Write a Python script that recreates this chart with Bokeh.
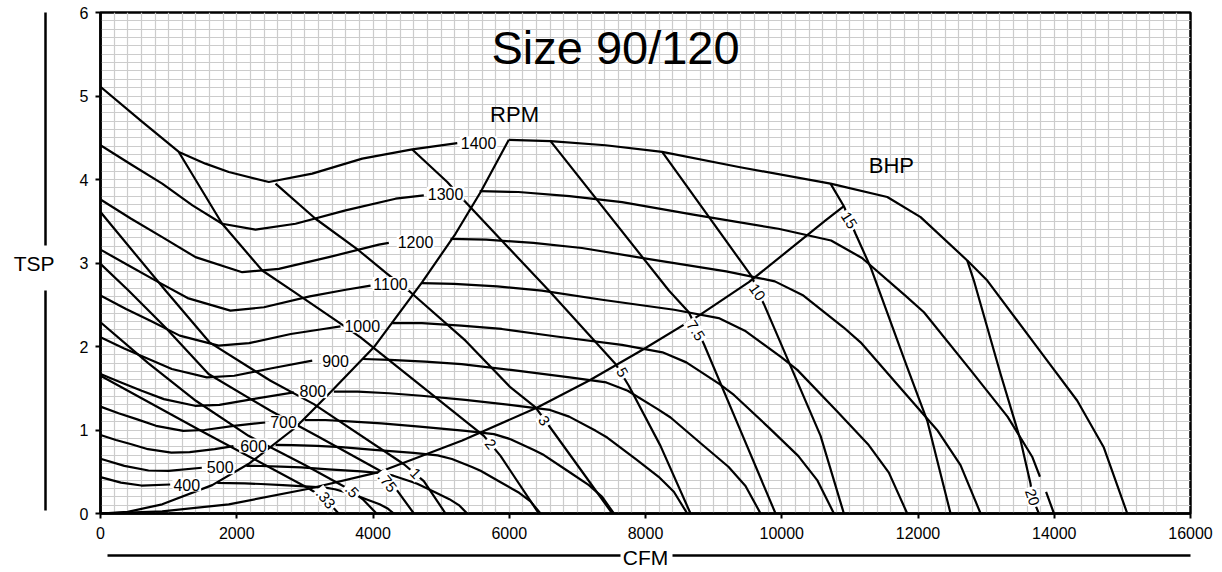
from bokeh.plotting import figure
from bokeh.models import Range1d, SingleIntervalTicker, LinearAxis, FixedTicker
from bokeh.core.properties import value
from bokeh.embed import file_html
from bokeh.resources import INLINE

nan = float("nan")

# ---------------- data (CFM, TSP) ----------------
# fan RPM curves: stall part, gap (label), operating part
rpm1400_cfm = [0, 600, 1150, 1541, 1883, 2471, 3108, 3842, 4576, 5237, nan, 5994, 6606, 7413, 8245, 9370, 10716, 11549, 12038, 12723, 13017, 13751, 14338, 14728, 15072]
rpm1400_tsp = [5.11, 4.70, 4.33, 4.19, 4.09, 3.97, 4.07, 4.25, 4.36, 4.435, nan, 4.475, 4.46, 4.41, 4.33, 4.15, 3.95, 3.79, 3.55, 3.03, 2.79, 1.99, 1.35, 0.79, 0]
rpm1300_cfm = [0, 450, 906, 1350, 1786, 2275, 2863, 3597, 4331, 4746, nan, 5566, 6134, 6884, 7656, 8701, 9951, 10724, 11178, 11814, 12087, 12769, 13314, 13676, 13790, nan, 13880, 13996]
rpm1300_tsp = [4.41, 4.18, 3.95, 3.69, 3.47, 3.40, 3.47, 3.63, 3.77, 3.81, nan, 3.86, 3.85, 3.80, 3.73, 3.58, 3.41, 3.27, 3.06, 2.61, 2.41, 1.72, 1.16, 0.68, 0.44, nan, 0.26, 0]
rpm1200_cfm = [0, 450, 906, 1395, 2080, 2617, 3351, 4085, 4232, nan, 5138, 5662, 6354, 7067, 8031, 9185, 9899, 10318, 10905, 11157, 11787, 12290, 12624, 12919]
rpm1200_tsp = [3.76, 3.53, 3.31, 3.07, 2.89, 2.93, 3.07, 3.22, 3.24, nan, 3.29, 3.28, 3.24, 3.18, 3.05, 2.90, 2.78, 2.61, 2.23, 2.05, 1.46, 0.99, 0.58, 0]
rpm1100_cfm = [0, 413, 830, 1279, 1907, 2399, 3072, 3600, 3964, nan, 4710, 5190, 5824, 6478, 7362, 8420, 9074, 9458, 9997, 10228, 10804, 11266, 11572, 11842]
rpm1100_tsp = [3.16, 2.97, 2.78, 2.58, 2.43, 2.47, 2.60, 2.68, 2.73, nan, 2.76, 2.75, 2.72, 2.67, 2.56, 2.44, 2.34, 2.19, 1.87, 1.72, 1.23, 0.83, 0.49, 0]
rpm1000_cfm = [0, 375, 755, 1163, 1733, 2181, 2793, 3272, 3523, nan, 4281, 4719, 5295, 5889, 6693, 7654, 8249, 8599, 9088, 9298, 9822, 10241, 10520, 10766]
rpm1000_tsp = [2.61, 2.45, 2.30, 2.13, 2.01, 2.04, 2.15, 2.21, 2.24, nan, 2.28, 2.28, 2.25, 2.21, 2.12, 2.02, 1.93, 1.81, 1.55, 1.42, 1.02, 0.69, 0.40, 0]
rpm900_cfm = [0, 340, 680, 1047, 1560, 1963, 2514, 3108, nan, 3853, 4247, 4766, 5300, 6024, 6889, 7424, 7739, 8179, 8368, 8840, 9217, 9468, 9689]
rpm900_tsp = [2.11, 1.98, 1.86, 1.73, 1.63, 1.65, 1.74, 1.83, nan, 1.85, 1.84, 1.82, 1.79, 1.72, 1.63, 1.57, 1.47, 1.25, 1.15, 0.82, 0.56, 0.33, 0]
rpm800_cfm = [0, 302, 604, 931, 1387, 1745, 2235, 2838, nan, 3425, 3775, 4236, 4711, 5354, 6123, 6599, 6879, 7270, 7438, 7858, 8193, 8416, 8613]
rpm800_tsp = [1.67, 1.57, 1.47, 1.37, 1.29, 1.30, 1.37, 1.45, nan, 1.46, 1.46, 1.44, 1.41, 1.36, 1.29, 1.24, 1.16, 0.99, 0.91, 0.65, 0.44, 0.26, 0]
rpm700_cfm = [0, 265, 529, 815, 1214, 1527, 1956, 2418, nan, 2997, 3303, 3707, 4123, 4685, 5358, 5775, 6019, 6362, 6509, 6876, 7169, 7364, 7536]
rpm700_tsp = [1.28, 1.20, 1.13, 1.05, 0.99, 1.00, 1.05, 1.09, nan, 1.12, 1.12, 1.10, 1.08, 1.04, 0.99, 0.95, 0.89, 0.76, 0.70, 0.50, 0.34, 0.20, 0]
rpm600_cfm = [0, 227, 453, 698, 1040, 1309, 1676, 1952, nan, 2569, 2831, 3177, 3534, 4016, 4593, 4950, 5159, 5453, 5579, 5893, 6145, 6312, 6459]
rpm600_tsp = [0.94, 0.88, 0.83, 0.77, 0.73, 0.735, 0.77, 0.806, nan, 0.822, 0.819, 0.81, 0.795, 0.762, 0.726, 0.696, 0.652, 0.557, 0.512, 0.366, 0.248, 0.145, 0]
rpm500_cfm = [0, 350, 705, 1000, 1487, nan, 2141, 2359, 2647, 2945, 3346, 3827, 4125, 4299, 4544, 4649, 4911, 5121, 5260, 5383]
rpm500_tsp = [0.655, 0.57, 0.515, 0.51, 0.548, nan, 0.571, 0.569, 0.562, 0.552, 0.529, 0.504, 0.483, 0.453, 0.386, 0.356, 0.254, 0.172, 0.101, 0]
rpm400_cfm = [0, 300, 600, 1023, nan, 1713, 1887, 2118, 2356, 2677, 3062, 3300, 3439, 3635, 3719, 3929, 4097, 4208, 4306]
rpm400_tsp = [0.435, 0.37, 0.335, 0.347, nan, 0.365, 0.364, 0.36, 0.353, 0.339, 0.322, 0.309, 0.29, 0.247, 0.228, 0.162, 0.11, 0.064, 0]

rpm_label_text = ["1400", "1300", "1200", "1100", "1000", "900", "800", "700", "600", "500", "400"]
rpm_label_cfm = [5549, 5065, 4624, 4257, 3842, 3450, 3117, 2686, 2246, 1757, 1267]
rpm_label_tsp = [4.435, 3.83, 3.25, 2.75, 2.25, 1.83, 1.465, 1.093, 0.814, 0.555, 0.347]

# limit curves
rpm_limit_cfm = [0, 400, 906, 1640, 2177, 2863, 3351, 4012, 4722, 5211, 5578, 5994]
rpm_limit_tsp = [0, 0.02, 0.11, 0.34, 0.595, 1.03, 1.43, 1.99, 2.77, 3.35, 3.848, 4.475]
bhp_limit_cfm = [0, 906, 1883, 3058, 4085, 5310, 6411, 7168, 7976, 8783, 9517, 10643, 10912]
bhp_limit_tsp = [0, 0.026, 0.11, 0.296, 0.495, 0.874, 1.27, 1.59, 1.97, 2.37, 2.77, 3.51, 3.68]

# brake horsepower lines
bhp033_cfm = [0, 1500, 3058, 3303, 3494]
bhp033_tsp = [1.65, 0.98, 0.30, 0.175, 0]
bhp05_cfm = [0, 700, 1400, 2173, 3000, 3695, 3850, 4052]
bhp05_tsp = [2.29, 1.80, 1.35, 0.93, 0.58, 0.27, 0.17, 0]
bhp075_cfm = [0, 411, 950, 1586, 2496, 3200, 4110, 4356, 4600]
bhp075_tsp = [2.99, 2.67, 2.23, 1.67, 1.23, 0.92, 0.51, 0.275, 0]
bhp1_cfm = [0, 954, 1600, 2496, 3132, 4454, 4746, 5065]
bhp1_tsp = [3.61, 2.67, 2.05, 1.59, 1.31, 0.59, 0.387, 0]
bhp2_cfm = [1149, 1786, 2374, 2814, 3498, 3817, 5627, 5872, 6434]
bhp2_tsp = [4.33, 3.47, 2.91, 2.67, 2.29, 2.11, 0.93, 0.69, 0]
bhp3_cfm = [2569, 3156, 3792, 4209, 4551, 5358, 6019, 6386, 6655, 7071, 7512]
bhp3_tsp = [3.95, 3.53, 3.15, 2.87, 2.65, 2.07, 1.51, 1.27, 0.97, 0.50, 0]
bhp5_cfm = [4576, 5090, 5358, 6581, 7560, 7755, 8220, 8661]
bhp5_tsp = [4.36, 3.97, 3.73, 2.67, 1.79, 1.53, 0.81, 0]
bhp7_5_cfm = [6606, 8343, 8636, 8857, 9370, 9909]
bhp7_5_tsp = [4.46, 2.67, 2.41, 2.03, 1.04, 0]
bhp10_cfm = [8245, 9566, 9639, 9737, 10570, 10912]
bhp10_tsp = [4.33, 2.83, 2.67, 2.51, 0.93, 0]
bhp15_cfm = [10716, 10912, 11083, 11304, 11842, 12136, 12331, 12478]
bhp15_tsp = [3.95, 3.68, 3.35, 2.95, 1.75, 1.11, 0.475, 0]
bhp20_cfm = [12723, 12820, 13212, 13506, 13652, 13677, 13774]
bhp20_tsp = [3.03, 2.79, 1.67, 0.874, 0.356, 0.195, 0]

bhp_label_text = [".33", ".5", ".75", "1", "2", "3", "5", "7.5", "10", "15", "20"]
bhp_label_cfm = [3303, 3690, 4209, 4624, 5725, 6508, 7658, 8735, 9639, 10985, 13677]
bhp_label_tsp = [0.176, 0.27, 0.375, 0.48, 0.83, 1.11, 1.69, 2.19, 2.65, 3.51, 0.195]

x_ticks_step = 2000
y_ticks_step = 1

# ---------------- styling ----------------
FONT = "Liberation Sans"
bhp_label_angle = [-0.9, -0.8, -0.9, -0.8, -0.9, -1.0, -1.05, -1.0, -0.95, -1.0, -1.25]

p = figure(width=1222, height=572, x_range=Range1d(0, 16000), y_range=Range1d(0, 6),
           output_backend="svg", toolbar_location=None,
           min_border_left=100, min_border_right=32, min_border_top=12, min_border_bottom=59)
p.background_fill_color = "white"
p.border_fill_color = "white"
p.outline_line_color = "black"
p.outline_line_width = 2.5
p.outline_line_alpha = 1.0

p.xaxis.ticker = SingleIntervalTicker(interval=x_ticks_step)
p.yaxis.ticker = SingleIntervalTicker(interval=y_ticks_step)
p.xgrid.ticker = SingleIntervalTicker(interval=200)
p.ygrid.ticker = SingleIntervalTicker(interval=0.1)
for g in (p.xgrid, p.ygrid):
    g.grid_line_color = "#cccccc"
    g.grid_line_width = 1.2
    g.grid_line_alpha = 1.0

for ax in (p.xaxis, p.yaxis):
    ax.axis_line_color = "black"
    ax.axis_line_width = 2.5
    ax.major_tick_line_color = "black"
    ax.major_tick_line_width = 2
    ax.major_tick_out = 5
    ax.major_tick_in = 0
    ax.minor_tick_line_color = None
    ax.minor_tick_out = 0
    ax.minor_tick_in = 0
    ax.major_label_text_font = FONT
    ax.major_label_text_font_size = "16px"
    ax.major_label_text_color = "black"
p.xaxis.major_label_standoff = 8
p.yaxis.major_label_standoff = 7


def rule_axis(bounds=None, line=True, label=None, standoff=0, orientation=None):
    ax = LinearAxis(ticker=FixedTicker(ticks=[]), major_label_standoff=0,
                    major_tick_out=0, major_tick_in=0,
                    minor_tick_out=0, minor_tick_in=0,
                    major_tick_line_color=None, minor_tick_line_color=None,
                    axis_line_color="black" if line else None, axis_line_width=2.5)
    if bounds is not None:
        ax.bounds = bounds
    if label is not None:
        ax.axis_label = label
        ax.axis_label_standoff = standoff
        ax.axis_label_text_font = FONT
        ax.axis_label_text_font_size = "21px"
        ax.axis_label_text_font_style = "normal"
        ax.axis_label_text_color = "black"
        if orientation is not None:
            ax.axis_label_orientation = orientation
    return ax


def spacer_axis(size, at):
    # blank panel of a given depth (white tick, no label)
    return LinearAxis(ticker=FixedTicker(ticks=[at]), major_label_standoff=0,
                      major_tick_out=size, major_tick_in=0, minor_tick_out=0, minor_tick_in=0,
                      major_tick_line_color="white", major_tick_line_width=1,
                      minor_tick_line_color=None, major_label_text_color=None,
                      major_label_text_font_size="1px", axis_line_color=None)


# bottom: spacer, rule line split around the title, title "CFM"
p.add_layout(spacer_axis(14, 15990), "below")
p.add_layout(rule_axis(bounds=(103, 7630)), "below")
p.add_layout(rule_axis(bounds=(8400, 16000)), "below")
p.add_layout(rule_axis(line=False, label="CFM", standoff=-10), "below")
# left: spacer, rule line split around the title, title "TSP"
p.add_layout(spacer_axis(31, 5.99), "left")
p.add_layout(rule_axis(bounds=(3.21, 6)), "left")
p.add_layout(rule_axis(bounds=(0.04, 2.67)), "left")
p.add_layout(rule_axis(line=False, label="TSP", standoff=-9, orientation="horizontal"), "left")

LW = 2.2
rpm_series = [
    (rpm1400_cfm, rpm1400_tsp), (rpm1300_cfm, rpm1300_tsp), (rpm1200_cfm, rpm1200_tsp),
    (rpm1100_cfm, rpm1100_tsp), (rpm1000_cfm, rpm1000_tsp), (rpm900_cfm, rpm900_tsp),
    (rpm800_cfm, rpm800_tsp), (rpm700_cfm, rpm700_tsp), (rpm600_cfm, rpm600_tsp),
    (rpm500_cfm, rpm500_tsp), (rpm400_cfm, rpm400_tsp),
]
for xs, ys in rpm_series:
    p.line(xs, ys, line_color="black", line_width=LW, line_join="round")

bhp_series = [
    (bhp033_cfm, bhp033_tsp), (bhp05_cfm, bhp05_tsp), (bhp075_cfm, bhp075_tsp),
    (bhp1_cfm, bhp1_tsp), (bhp2_cfm, bhp2_tsp), (bhp3_cfm, bhp3_tsp), (bhp5_cfm, bhp5_tsp),
    (bhp7_5_cfm, bhp7_5_tsp), (bhp10_cfm, bhp10_tsp), (bhp15_cfm, bhp15_tsp), (bhp20_cfm, bhp20_tsp),
]
for xs, ys in bhp_series:
    p.line(xs, ys, line_color="black", line_width=LW, line_join="round")

p.line(rpm_limit_cfm, rpm_limit_tsp, line_color="black", line_width=LW, line_join="round")
p.line(bhp_limit_cfm, bhp_limit_tsp, line_color="black", line_width=LW, line_join="round")

# labels on curves
p.text(x=rpm_label_cfm, y=rpm_label_tsp, text=rpm_label_text,
       text_font=value(FONT), text_font_size="16px", text_color="black",
       text_align="center", text_baseline="middle",
       background_fill_color="white", padding=1)
p.text(x=bhp_label_cfm, y=bhp_label_tsp, text=bhp_label_text, angle=bhp_label_angle,
       text_font=value(FONT), text_font_size="15px", text_color="black",
       text_align="center", text_baseline="middle",
       background_fill_color="white", padding=2)

p.text(x=[7560], y=[5.58], text=["Size 90/120"], text_font=value(FONT),
       text_font_size="47px", text_color="black", text_align="center", text_baseline="middle")
p.text(x=[6078, 11609], y=[4.78, 4.17], text=["RPM", "BHP"], text_font=value(FONT),
       text_font_size="22px", text_color="black", text_align="center", text_baseline="middle")

open("out.html", "w").write(file_html(p, INLINE))
